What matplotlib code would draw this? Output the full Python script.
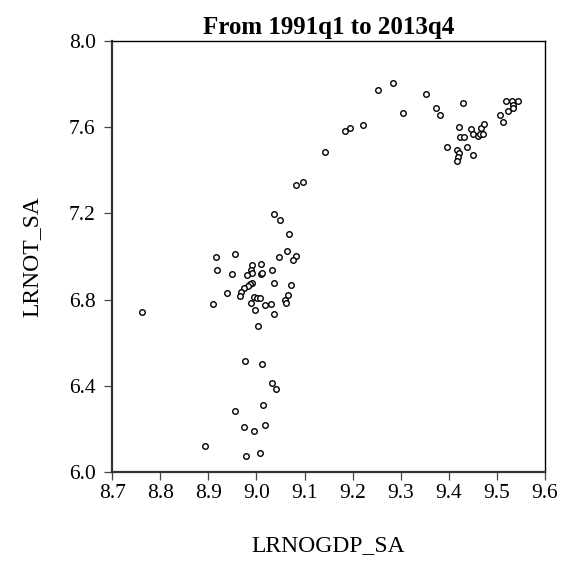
import matplotlib.pyplot as plt

plt.rcParams["font.family"] = ["Liberation Serif", "DejaVu Serif"]

# quarterly observations, 1991q1 - 2013q4
lrnogdp_sa = [
    9.096, 9.083, 9.036, 9.049, 9.068, 9.063, 9.083, 9.077, 9.046, 8.956,
    8.915, 8.918, 8.949, 8.990, 8.988, 8.990, 8.980, 9.009, 9.010, 9.011,
    9.032, 9.036, 9.072, 8.990, 8.986, 8.983, 8.974, 8.969, 8.965, 8.938,
    8.996, 9.002, 9.008, 8.989, 8.997, 9.017, 9.030, 9.036, 9.060, 9.062,
    9.066, 8.909, 8.763,
    9.003, 8.976, 9.012, 9.033, 9.040, 9.014, 8.956, 8.974, 9.017, 8.996,
    8.893, 8.978, 9.008,
    9.142, 9.185, 9.194, 9.222, 9.253, 9.284, 9.304, 9.352, 9.373, 9.382,
    9.429, 9.396, 9.421, 9.423, 9.432, 9.417, 9.421, 9.419, 9.417, 9.437,
    9.450, 9.446, 9.450, 9.460, 9.464, 9.471, 9.467, 9.474, 9.507, 9.513,
    9.518, 9.523, 9.532, 9.534, 9.534, 9.543,
]
lrnot_sa = [
    7.347, 7.330, 7.199, 7.169, 7.104, 7.026, 7.004, 6.984, 6.999, 7.013,
    6.998, 6.936, 6.920, 6.961, 6.937, 6.925, 6.914, 6.967, 6.920, 6.922,
    6.937, 6.876, 6.868, 6.876, 6.871, 6.866, 6.854, 6.834, 6.818, 6.831,
    6.813, 6.807, 6.807, 6.787, 6.753, 6.777, 6.781, 6.736, 6.798, 6.786,
    6.823, 6.781, 6.741,
    6.679, 6.515, 6.504, 6.414, 6.384, 6.311, 6.282, 6.212, 6.221, 6.193,
    6.122, 6.076, 6.090,
    7.484, 7.581, 7.596, 7.609, 7.771, 7.805, 7.664, 7.753, 7.688, 7.658,
    7.711, 7.508, 7.602, 7.553, 7.553, 7.493, 7.479, 7.460, 7.443, 7.507,
    7.471, 7.592, 7.568, 7.559, 7.567, 7.567, 7.596, 7.613, 7.655, 7.623,
    7.723, 7.674, 7.720, 7.703, 7.688, 7.722,
]

x_ticks = [8.7, 8.8, 8.9, 9.0, 9.1, 9.2, 9.3, 9.4, 9.5, 9.6]
y_ticks = [6.0, 6.4, 6.8, 7.2, 7.6, 8.0]

fig = plt.figure(figsize=(5.66, 5.69), dpi=100)
ax = fig.add_axes([0.198, 0.170, 0.765, 0.758])

ax.plot(lrnogdp_sa, lrnot_sa, linestyle="none", marker="o", markersize=4,
        markerfacecolor="white", markeredgecolor="black", markeredgewidth=1.0)

ax.set_xlim(8.7, 9.6)
ax.set_ylim(6.0, 8.0)
ax.set_xticks(x_ticks)
ax.set_yticks(y_ticks)
ax.set_xticklabels([f"{v:.1f}" for v in x_ticks])
ax.set_yticklabels([f"{v:.1f}" for v in y_ticks])
ax.tick_params(direction="out", length=5.8, width=0.9, labelsize=15.5, color="#444444")
ax.tick_params(axis="x", pad=3)
ax.tick_params(axis="y", pad=6)

for side in ["left", "bottom"]:
    ax.spines[side].set_color("#333333")
    ax.spines[side].set_linewidth(1.6)
for side in ["top", "right"]:
    ax.spines[side].set_linewidth(1.0)

ax.set_title("From 1991q1 to 2013q4", fontsize=18, fontweight="bold", pad=4.7)
ax.set_xlabel("LRNOGDP_SA", fontsize=17, labelpad=23)
ax.set_ylabel("LRNOT_SA", fontsize=17, labelpad=19)

fig.savefig("out.png", dpi=100)
